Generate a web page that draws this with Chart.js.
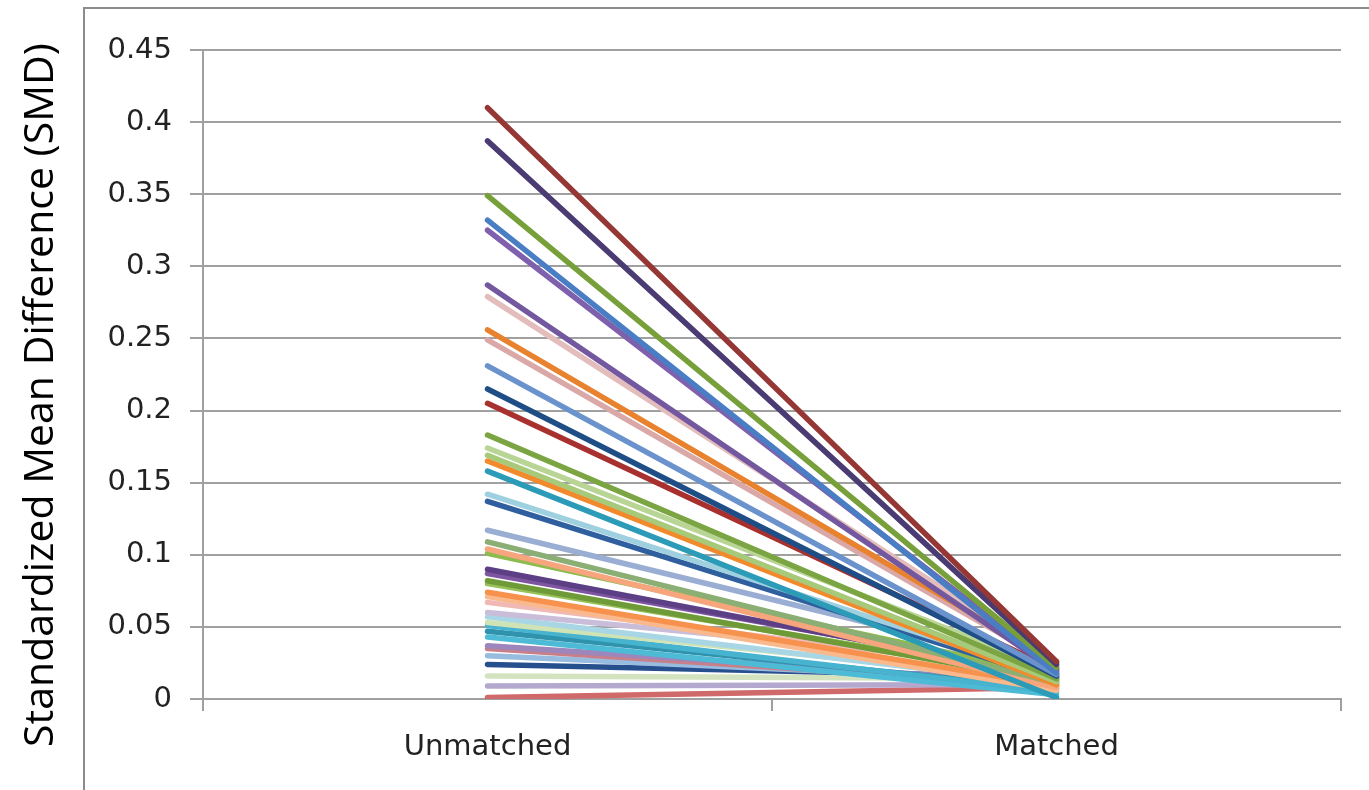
<!DOCTYPE html>
<html>
<head>
<meta charset="utf-8">
<script src="https://cdn.jsdelivr.net/npm/chart.js@4.4.1/dist/chart.umd.min.js"></script>
<style>
html,body{margin:0;padding:0;background:#fff;}
#wrap{position:relative;width:1369px;height:790px;}
</style>
</head>
<body>
<div id="wrap"><canvas id="c" width="1369" height="790"></canvas></div>
<script>
const categories = ['Unmatched', 'Matched'];
const yTickValues = [0, 0.05, 0.1, 0.15, 0.2, 0.25, 0.3, 0.35, 0.4, 0.45];
const unmatched = [0.410, 0.387, 0.349, 0.332, 0.325, 0.287, 0.279, 0.256, 0.249, 0.231,
  0.215, 0.205, 0.183, 0.174, 0.169, 0.165, 0.158, 0.142, 0.137, 0.117,
  0.109, 0.104, 0.101, 0.090, 0.087, 0.082, 0.080, 0.074, 0.071, 0.067,
  0.060, 0.057, 0.053, 0.051, 0.047, 0.043, 0.037, 0.035, 0.030, 0.024,
  0.016, 0.009, 0.001];
const matched = [0.026, 0.024, 0.022, 0.018, 0.021, 0.019, 0.026, 0.025, 0.023, 0.017,
  0.016, 0.020, 0.014, 0.019, 0.012, 0.010, 0.001, 0.015, 0.013, 0.021,
  0.011, 0.008, 0.016, 0.015, 0.017, 0.012, 0.014, 0.009, 0.006, 0.018,
  0.022, 0.010, 0.013, 0.005, 0.007, 0.003, 0.011, 0.009, 0.012, 0.015,
  0.014, 0.010, 0.008];
const seriesColors = ['#953735', '#4A3B72', '#77A03A', '#4A7EC4', '#7E60AD', '#7358A0', '#E3BCBC', '#E8822E', '#DBA8A8', '#6A93CE',
  '#1F4E86', '#A8312F', '#7BA542', '#B9D595', '#A7C97A', '#F08A2C', '#2C9BB8', '#9FD0E0', '#2F5F9E', '#9AAED4',
  '#8AAE74', '#F6A57C', '#8DBB4E', '#5C3F84', '#7D55A0', '#6E9A38', '#99C159', '#F7924E', '#FAB98D', '#F0B9B5',
  '#C9BDD9', '#A9D6E5', '#CFE3B4', '#48B3CF', '#2F93AE', '#4DBBD5', '#9C86BC', '#C77F8A', '#98BCE0', '#264F8E',
  '#D3E3C0', '#B4A8CE', '#D06A6A'];

const datasets = unmatched.map((u, i) => ({
  label: 'Covariate ' + (i + 1),
  data: [u, matched[i]],
  borderColor: seriesColors[i],
  backgroundColor: seriesColors[i],
  borderWidth: 5.5,
  pointRadius: 0,
  tension: 0,
  borderCapStyle: 'round',
  fill: false
}));

const framePlugin = {
  id: 'frame',
  beforeDraw(chart) {
    const ctx = chart.ctx;
    ctx.save();
    ctx.fillStyle = '#ffffff';
    ctx.fillRect(0, 0, chart.width, chart.height);
    ctx.strokeStyle = '#8c8c8c';
    ctx.lineWidth = 2;
    ctx.beginPath();
    ctx.moveTo(84, chart.height);
    ctx.lineTo(84, 8);
    ctx.lineTo(chart.width, 8);
    ctx.stroke();
    ctx.restore();
  }
};

new Chart(document.getElementById('c'), {
  type: 'line',
  data: { labels: categories, datasets: datasets },
  options: {
    responsive: false,
    animation: false,
    devicePixelRatio: 1,
    layout: { padding: { top: 50, right: 28, bottom: 0, left: 0 } },
    plugins: { legend: { display: false }, tooltip: { enabled: false } },
    scales: {
      x: {
        offset: true,
        grid: { offset: true, drawOnChartArea: false, drawTicks: true, tickLength: 12, color: '#a0a0a0', lineWidth: 2 },
        border: { color: '#a0a0a0', width: 2 },
        ticks: { color: '#222222', font: { family: 'DejaVu Sans', size: 29 }, padding: 19 },
        afterFit(scale) { scale.height = 91; }
      },
      y: {
        min: 0,
        max: 0.45,
        afterBuildTicks(scale) { scale.ticks = yTickValues.map(v => ({ value: v })); },
        grid: { color: '#a0a0a0', lineWidth: 2, tickLength: 13, drawTicks: true },
        border: { color: '#a0a0a0', width: 2 },
        ticks: {
          color: '#222222',
          font: { family: 'DejaVu Sans', size: 29 },
          padding: 18,
          callback(v) { return String(+v.toFixed(2)); }
        },
        title: {
          display: true,
          text: 'Standardized Mean Difference (SMD)\u2003',
          color: '#000000',
          font: { family: 'Open Sans', size: 41, weight: 'normal' },
          padding: { top: 17, bottom: 0 }
        },
        afterFit(scale) { scale.width = 203; }
      }
    }
  },
  plugins: [framePlugin]
});
</script>
</body>
</html>
